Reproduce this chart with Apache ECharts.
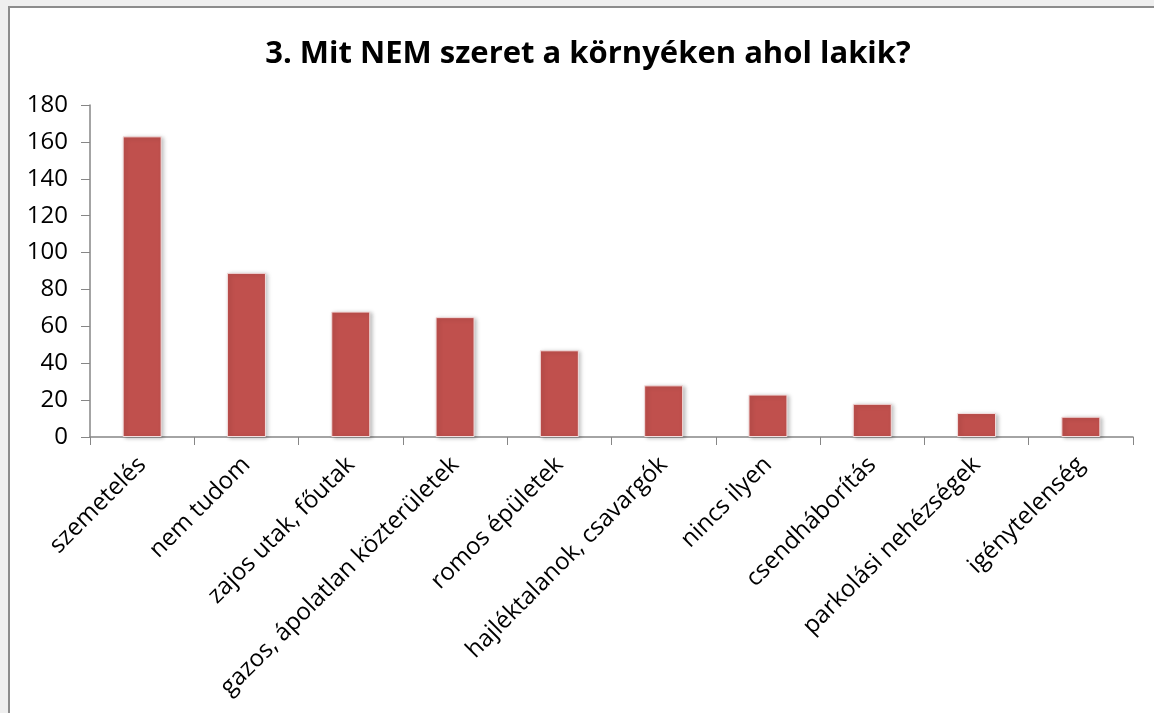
<!DOCTYPE html>
<html>
<head>
<meta charset="utf-8">
<script src="https://cdn.jsdelivr.net/npm/echarts@6/dist/echarts.min.js"></script>
<style>
  body { margin: 0; background: #efefef; }
  .frame {
    position: absolute; left: 8px; top: 6px; width: 1146px; height: 707px;
    border-left: 2px solid #8c8c8c; border-top: 2px solid #8c8c8c;
    background: #fff; box-sizing: border-box;
  }
  #chart { position: absolute; left: 0; top: 0; width: 1154px; height: 713px; }
</style>
</head>
<body>
<div class="frame"></div>
<div id="chart"></div>
<script>
// kategóriák és értékek
const categories = [
  "szemetelés",
  "nem tudom",
  "zajos utak, főutak",
  "gazos, ápolatlan közterületek",
  "romos épületek",
  "hajléktalanok, csavargók",
  "nincs ilyen",
  "csendháborítás",
  "parkolási nehézségek",
  "igénytelenség"
];
const values = [163, 89, 68, 65, 47, 28, 23, 18, 13, 11];
const yTicks = { min: 0, max: 180, interval: 20 };

const chart = echarts.init(document.getElementById("chart"));
const font = "'Open Sans', 'Noto Sans', sans-serif";

const option = {
  animation: false,
  title: {
    text: "3. Mit NEM szeret a környéken ahol lakik?",
    left: 583,
    top: 34,
    textAlign: "center",
    textStyle: {
      fontFamily: font,
      fontSize: 31,
      fontWeight: "bold",
      color: "#000"
    }
  },
  grid: {
    left: 90,
    right: 21,
    top: 105,
    bottom: 276,
    containLabel: false
  },
  xAxis: {
    type: "category",
    data: categories,
    axisLine: { lineStyle: { color: "#868686", width: 1.5 } },
    axisTick: { show: true, length: 8, lineStyle: { color: "#868686" } },
    axisLabel: {
      rotate: 45,
      interval: 0,
      margin: 24,
      color: "#000",
      fontFamily: font,
      fontSize: 24
    }
  },
  yAxis: {
    type: "value",
    min: yTicks.min,
    max: yTicks.max,
    interval: yTicks.interval,
    axisLine: { show: true, lineStyle: { color: "#868686", width: 1.5 } },
    axisTick: { show: true, length: 9, lineStyle: { color: "#868686" } },
    splitLine: { show: false },
    axisLabel: {
      color: "#000",
      fontFamily: font,
      fontSize: 24,
      margin: 22
    }
  },
  series: [
    {
      type: "bar",
      data: values,
      barWidth: 39,
      itemStyle: {
        color: "#c0504d",
        borderColor: "#f3dede",
        borderWidth: 1,
        shadowBlur: 4,
        shadowColor: "rgba(0,0,0,0.25)",
        shadowOffsetX: 2,
        shadowOffsetY: 1
      }
    }
  ]
};
chart.setOption(option);
</script>
</body>
</html>
